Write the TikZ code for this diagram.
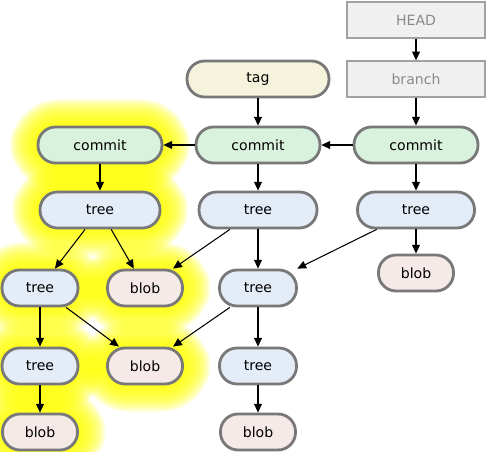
\documentclass[tikz,border=0pt]{standalone}
\usepackage{fontspec}
\setmainfont{DejaVu Sans}
\usetikzlibrary{arrows.meta, backgrounds}
\definecolor{rand}{HTML}{787878}
\definecolor{commitfill}{HTML}{D9F2DE}
\definecolor{treefill}{HTML}{E3ECF7}
\definecolor{blobfill}{HTML}{F6EAE8}
\definecolor{tagfill}{HTML}{F5F3DC}
\definecolor{reffill}{HTML}{F0F0F0}
\definecolor{reftext}{HTML}{8A8A8A}
\definecolor{glanz}{HTML}{FFFF00}

\begin{document}
\begin{tikzpicture}[x=0.02cm, y=-0.02cm,
        obj/.style={draw=rand, line width=1.6pt, rounded corners=0.35cm,
                    minimum height=0.72cm, inner sep=0pt, font=\fontsize{8}{9}\selectfont},
        commit/.style={obj, fill=commitfill, minimum width=2.48cm},
        tree/.style={obj, fill=treefill},
        blob/.style={obj, fill=blobfill, minimum width=1.5cm},
        tagbox/.style={obj, fill=tagfill, minimum width=2.84cm},
        ref/.style={draw=reftext!80, line width=0.8pt, fill=reffill, minimum width=2.76cm,
                    minimum height=0.72cm, text=reftext, font=\fontsize{8}{9}\selectfont},
        arr/.style={-{Triangle[length=5pt, width=4.5pt]}, line width=0.6pt},
        glow/.style={line width=#1, draw=glanz, rounded corners=0.45cm, line join=round}
      ]
      \useasboundingbox (0,0) rectangle (491,452);

      % Referenzen
      \node[ref] (head) at (416,20) {HEAD};
      \node[ref] (branch) at (416,79) {branch};
      \node[tagbox] (tag) at (258,79) {tag};

      % Commits
      \node[commit] (cA) at (100,145) {commit};
      \node[commit] (cB) at (258,145) {commit};
      \node[commit] (cC) at (416,145) {commit};

      % Trees (feste Positionen)
      \node[tree, minimum width=2.4cm]  (tA) at (100,210) {tree};
      \node[tree, minimum width=2.36cm] (tB) at (258,210) {tree};
      \node[tree, minimum width=2.34cm] (tC) at (416,210) {tree};
      \node[tree, minimum width=1.52cm] (tD) at (40,288)  {tree};
      \node[tree, minimum width=1.54cm] (tE) at (258,288) {tree};
      \node[tree, minimum width=1.52cm] (tF) at (40,366)  {tree};
      \node[tree, minimum width=1.54cm] (tG) at (258,366) {tree};

      % Blobs
      \node[blob] (bA) at (145,288) {blob};
      \node[blob] (bB) at (416,273) {blob};
      \node[blob] (bC) at (145,366) {blob};
      \node[blob] (bD) at (40,432)  {blob};
      \node[blob] (bE) at (258,432) {blob};

      % Leuchten hinter dem alten Stand
      \begin{scope}[on background layer]
        \foreach \w in {30,28,...,4} {
          \foreach \n in {cA, tA, tD, bA, tF, bC, bD} {
            \draw[glow=\w pt, opacity=0.13] (\n.south west) rectangle (\n.north east);
          }
        }
      \end{scope}

      % Pfeile
      \foreach \a/\b in {head/branch, branch/cC, tag/cB, cC/cB, cB/cA,
                         cA/tA, cB/tB, cC/tC, tC/bB, tC/tE,
                         tA/tD, tA/bA, tB/bA, tB/tE,
                         tD/tF, tD/bC, tE/bC, tE/tG, tF/bD, tG/bE} {
        \draw[arr] (\a) -- (\b);
      }
    \end{tikzpicture}
\end{document}
